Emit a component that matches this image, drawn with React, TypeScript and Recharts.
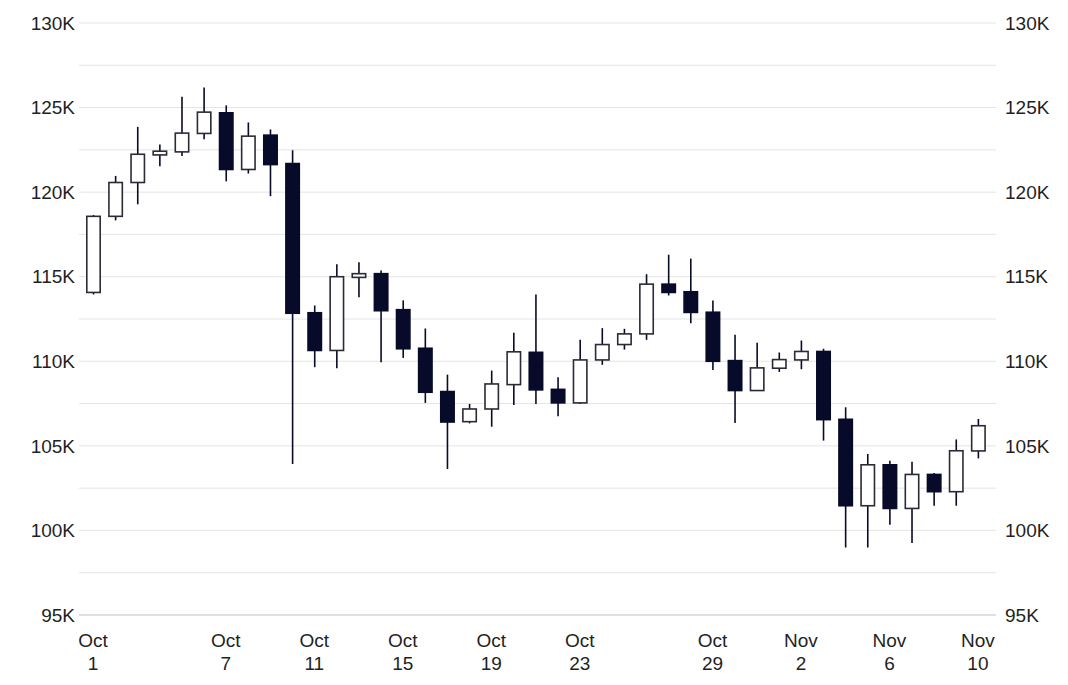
import React from "react";
import { ComposedChart, Bar, Line, XAxis, YAxis, CartesianGrid } from "recharts";

const dates = [
  "Oct 1", "Oct 2", "Oct 3", "Oct 4", "Oct 5", "Oct 6", "Oct 7", "Oct 8", "Oct 9", "Oct 10",
  "Oct 11", "Oct 12", "Oct 13", "Oct 14", "Oct 15", "Oct 16", "Oct 17", "Oct 18", "Oct 19", "Oct 20",
  "Oct 21", "Oct 22", "Oct 23", "Oct 24", "Oct 25", "Oct 26", "Oct 27", "Oct 28", "Oct 29", "Oct 30",
  "Oct 31", "Nov 1", "Nov 2", "Nov 3", "Nov 4", "Nov 5", "Nov 6", "Nov 7", "Nov 8", "Nov 9", "Nov 10",
];

const opens = [
  114070, 118570, 120570, 122200, 122380, 123470, 124690, 121340, 123370, 121690,
  112870, 110640, 114960, 115180, 113050, 110770, 108210, 106430, 107180, 108620,
  110530, 108340, 107540, 110080, 110990, 111620, 114560, 114110, 112900, 110040,
  108270, 109590, 110080, 110580, 106570, 101460, 103880, 101300, 103310, 102290, 104700,
];
const highs = [
  118650, 120960, 123860, 122820, 125640, 126190, 125130, 124120, 123710, 122480,
  113300, 115730, 115860, 115370, 113600, 111940, 109210, 107480, 109450, 111680,
  113950, 109050, 111270, 111960, 111920, 115150, 116300, 116070, 113600, 111570,
  111090, 110520, 111230, 110740, 107280, 104520, 104120, 104060, 103390, 105380, 106590,
];
const lows = [
  113950, 118330, 119280, 121530, 122140, 123130, 120640, 121100, 119760, 103930,
  109650, 109590, 113790, 109940, 110200, 107540, 103630, 106330, 106130, 107420,
  107480, 106750, 107480, 109790, 110690, 111270, 113890, 112250, 109490, 106350,
  108250, 109370, 109530, 105310, 98990, 98990, 100330, 99250, 101460, 101460, 104260,
];
const closes = [
  118570, 120570, 122240, 122420, 123490, 124730, 121340, 123310, 121630, 112840,
  110640, 115000, 115180, 112990, 110740, 108170, 106410, 107180, 108660, 110560,
  108310, 107540, 110080, 110990, 111620, 114560, 114070, 112890, 110000, 108270,
  109610, 110100, 110580, 106550, 101460, 103880, 101300, 103310, 102290, 104710, 106190,
];

const xTickLabels = ["Oct 1", "Oct 7", "Oct 11", "Oct 15", "Oct 19", "Oct 23", "Oct 29", "Nov 2", "Nov 6", "Nov 10"];
const yTicks = [95000, 97500, 100000, 102500, 105000, 107500, 110000, 112500, 115000, 117500, 120000, 122500, 125000, 127500, 130000];

const data = dates.map((date, i) => ({
  date,
  open: opens[i],
  high: highs[i],
  low: lows[i],
  close: closes[i],
}));

const FONT = '"Liberation Sans", Arial, sans-serif';
const INK = "#070b29";
const TEXT = "#1f1f24";

const Candle = (props: any) => {
  const { x, y, width, height, payload } = props;
  if (x == null || y == null) return null;
  const { open, close, high, low } = payload;
  const span = high - low || 1;
  const py = (v: number) => y + ((high - v) / span) * height;
  const cx = x + width / 2;
  const up = close >= open;
  const top = py(Math.max(open, close));
  const bottom = py(Math.min(open, close));
  const h = Math.max(bottom - top, 1);
  return (
    <g>
      <line x1={cx} x2={cx} y1={y} y2={y + height} stroke={INK} strokeWidth={1.6} />
      <rect
        x={x + 0.8}
        y={top}
        width={width - 1.6}
        height={h}
        fill={up ? "#ffffff" : INK}
        stroke={up ? "#2a2b36" : INK}
        strokeWidth={1.6}
      />
    </g>
  );
};

const XTick = (props: any) => {
  const { x, y, payload } = props;
  if (!xTickLabels.includes(payload.value)) return null;
  const [m, d] = String(payload.value).split(" ");
  return (
    <text x={x} y={y} textAnchor="middle" fill={TEXT} fontSize={19} fontFamily={FONT}>
      <tspan x={x} dy={32}>{m}</tspan>
      <tspan x={x} dy={23}>{d}</tspan>
    </text>
  );
};

const fmtK = (v: number) => (v % 5000 === 0 ? `${v / 1000}K` : "");

export default function App() {
  return (
    <div style={{ position: "absolute", left: 0, top: 0, width: 1068, height: 685, background: "#fff" }}>
      <ComposedChart width={1068} height={685} data={data} margin={{ top: 23, right: 0, bottom: 0, left: 0 }}>
        <CartesianGrid vertical={false} stroke="#e4e4e6" strokeWidth={1} />
        <XAxis
          dataKey="date"
          interval={0}
          height={70}
          padding={{ left: 3, right: 7 }}
          tickLine={false}
          tickSize={0}
          tickMargin={0}
          axisLine={{ stroke: "#d8d8da", strokeWidth: 1.5 }}
          tick={<XTick />}
        />
        <YAxis
          domain={[95000, 130000]}
          ticks={yTicks}
          width={79}
          axisLine={false}
          tickLine={false}
          tickSize={4}
          tickMargin={0}
          tickFormatter={fmtK}
          tick={{ fill: TEXT, fontSize: 19, fontFamily: FONT }}
        />
        <YAxis
          yAxisId="right"
          orientation="right"
          domain={[95000, 130000]}
          ticks={yTicks}
          width={72}
          axisLine={false}
          tickLine={false}
          tickSize={6}
          tickMargin={3}
          tickFormatter={fmtK}
          tick={{ fill: TEXT, fontSize: 19, fontFamily: FONT, textAnchor: "start" }}
        />
        <Bar
          dataKey={(d: any) => [d.low, d.high]}
          barSize={15}
          shape={<Candle />}
          isAnimationActive={false}
        />
        <Line
          yAxisId="right"
          dataKey="close"
          stroke="none"
          dot={false}
          activeDot={false}
          isAnimationActive={false}
        />
      </ComposedChart>
    </div>
  );
}
